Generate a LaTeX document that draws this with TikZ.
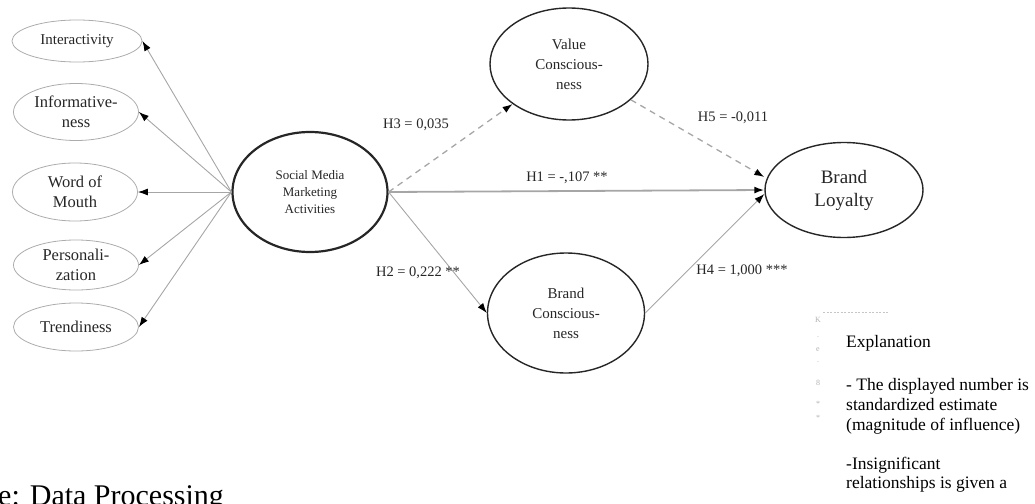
\documentclass[tikz,border=0pt]{standalone}
\usepackage{fontspec}
\setmainfont{Liberation Serif}
\usetikzlibrary{shapes.geometric,arrows.meta}
\tikzset{
    dim/.style={ellipse,draw=gray!65,line width=0.8pt,inner sep=0pt,align=center,text=black!85,font=\fontsize{16.5}{20}\selectfont},
    latent/.style={ellipse,draw=black!85,line width=1.4pt,inner sep=0pt,align=center,text=black!85},
    link/.style={draw=gray!70,line width=0.9pt,-{Latex[length=10pt,width=7pt,color=black]}},
    nsig/.style={link,dash pattern=on 6pt off 5pt,line width=1.3pt},
    est/.style={inner sep=0pt,text=black!85,font=\fontsize{14.5}{17}\selectfont},
    note/.style={anchor=base west,inner sep=0pt,font=\fontsize{17.5}{20}\selectfont},
    faint/.style={inner sep=0pt,text=gray!60,font=\fontsize{8}{9}\selectfont}
}
\begin{document}
\begin{tikzpicture}[x=1pt,y=-1pt]
    \useasboundingbox (0,0) rectangle (1035,503);
    \begin{scope}[every node/.style={dim}]
        \node[minimum width=130pt,minimum height=42pt,font=\fontsize{15}{18}\selectfont] (inter) at (77,41) {Interactivity};
        \node[minimum width=125pt,minimum height=57pt] (info) at (76,112) {Informative-\\ness};
        \node[minimum width=125pt,minimum height=58pt] (wom) at (75,192) {Word of\\Mouth};
        \node[minimum width=125pt,minimum height=50pt] (pers) at (76,265) {Personali-\\zation};
        \node[minimum width=125pt,minimum height=48pt] (trend) at (76,327) {Trendiness};
    \end{scope}
    \node[latent,line width=2.2pt,minimum width=155pt,minimum height=120pt,font=\fontsize{13}{16.7}\selectfont] (smma) at (310,192) {Social Media\\Marketing\\Activities};
    \node[latent,minimum width=158pt,minimum height=112pt,font=\fontsize{15}{20}\selectfont] (vc) at (569,64) {Value\\Conscious-\\ness};
    \node[latent,minimum width=157pt,minimum height=120pt,font=\fontsize{15}{20}\selectfont] (bc) at (566,313) {Brand\\Conscious-\\ness};
    \node[latent,minimum width=158pt,minimum height=95pt,font=\fontsize{19}{23}\selectfont] (bl) at (844,190) {Brand\\Loyalty};

    % dimensions of SMMA
    \foreach \n in {inter,info,wom,pers,trend}
        \path (smma.west) edge[link] (\n.east);

    % structural paths
    \path (smma.east) edge[link,line width=1.8pt] (bl.west);
    \path (smma.east) edge[nsig] (vc);
    \path (smma.east) edge[link] (bc.west);
    \path (vc) edge[nsig] ([yshift=13pt]bl.west);
    \path (bc.east) edge[link] ([yshift=-4pt]bl.west);

    \node[est] (h3) at (416,125) {H3 = 0,035};
    \node[est] (h5) at (733,118) {H5 = -0,011};
    \node[est] (h1) at (567,178) {H1 = -,107 **};
    \node[est] (h2) at (418,273) {H2 = 0,222 **};
    \node[est] (h4) at (742,271) {H4 = 1,000 ***};

    % explanation box
    \coordinate (keyA) at (823,312);
    \coordinate (keyB) at (888,312);
    \draw[gray!45,line width=1pt,dash pattern=on 2pt off 1.5pt] (keyA) -- (keyB);
    \foreach \y/\c in {320/K,337/.,350/e,362/.,383/8,404/*,418/*}
        \node[faint] (mark\y) at (818,\y) {\c};
    \foreach \y/\t in {347/Explanation,390/- The displayed number is,410/standardized estimate,430/(magnitude of influence),469/-Insignificant,488/relationships is given a}
        \node[note] (expl\y) at (846,\y) {\t};

    \node[anchor=base west,inner sep=0pt,font=\fontsize{30}{36}\selectfont] (src) at (-2,505) {e: Data Processing};
\end{tikzpicture}
\end{document}
